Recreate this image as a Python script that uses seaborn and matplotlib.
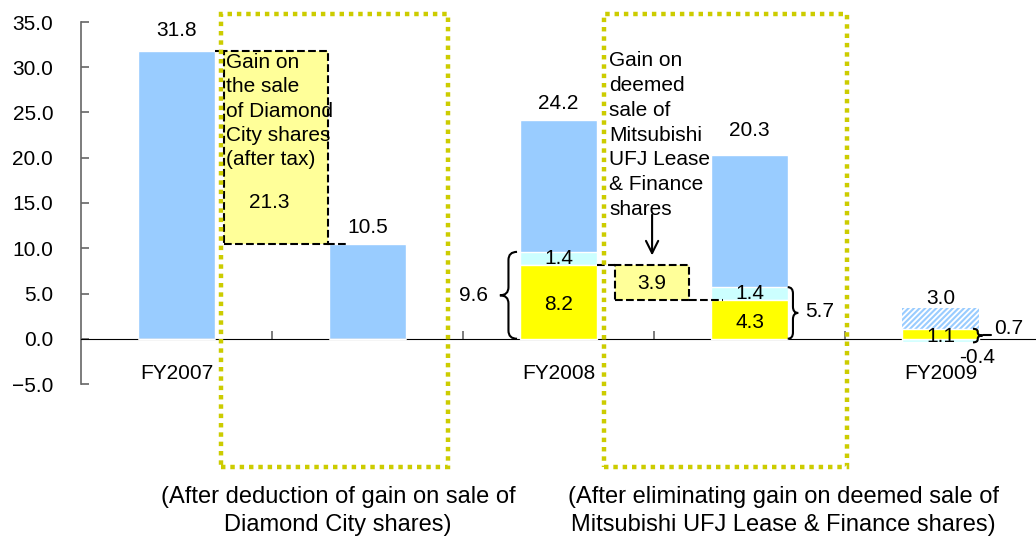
import matplotlib
matplotlib.use("Agg")
import matplotlib.pyplot as plt
import matplotlib.ticker as mticker
from matplotlib.patches import Rectangle, PathPatch
from matplotlib.path import Path
import seaborn as sns

sns.set_style("white")
plt.rcParams['font.family'] = ['Liberation Sans', 'DejaVu Sans']
plt.rcParams['hatch.linewidth'] = 1.5
plt.rcParams['text.color'] = 'black'
plt.rcParams['xtick.color'] = 'black'
plt.rcParams['ytick.color'] = 'black'

# ---- data ----
slots = [0, 1, 2, 3, 4]
slot_labels = ["FY2007", "", "FY2008", "", "FY2009"]
yellow_part = [0.0, 0.0, 8.2, 4.3, 1.1]
cyan_part = [0.0, 0.0, 1.4, 1.4, -0.4]
blue_part = [31.8, 10.5, 14.6, 14.6, 2.3]
totals = [31.8, 10.5, 24.2, 20.3, 3.0]
subtotals = [9.6, 5.7, 0.7]          # FY2008, FY2008 adjusted, FY2009
diamond_gain = 21.3
mufjl_gain = 3.9

BLUE = "#99CCFF"
CYAN = "#CCFFFF"
YELLOW = "#FFFF00"
PALE = "#FFFF99"
OLIVE = "#CCCC00"
FS = 15

fig = plt.figure(figsize=(10.36, 5.37), dpi=100)
ax = fig.add_axes([81 / 1036, 1 - 384 / 537, 955 / 1036, 362 / 537])

# blue layer (top of each stack)
cyan_bottom = [0.0 if c < 0 else y for y, c in zip(yellow_part, cyan_part)]
blue_bottom = [y + max(c, 0) for y, c in zip(yellow_part, cyan_part)]
blue_top = [b + h for b, h in zip(blue_bottom, blue_part)]
sns.barplot(x=slots, y=blue_top, color=BLUE, saturation=1, width=0.4,
            errorbar=None, ax=ax, zorder=2)
# FY2009 forecast bar is hatched
fc = ax.patches[4]
fc.set_facecolor("white")
fc.set_edgecolor(BLUE)
fc.set_hatch("//////")
fc.set_linewidth(0)

ax.bar(slots, cyan_part, bottom=cyan_bottom, width=0.4, color=CYAN, zorder=3)
ax.bar(slots, yellow_part, width=0.4, color=YELLOW, zorder=4)

# gain boxes (dashed, pale yellow)
ax.bar(0.522, diamond_gain, bottom=totals[1], width=0.545, color=PALE,
       edgecolor="black", linestyle="--", linewidth=1.5, zorder=3)
ax.bar(2.49, mufjl_gain, bottom=yellow_part[3], width=0.39, color=PALE,
       edgecolor="black", linestyle="--", linewidth=1.5, zorder=3)

# dashed connectors
conn = dict(color="black", linestyle="--", linewidth=1.5, zorder=5)
ax.plot([0.2, 0.25], [totals[0], totals[0]], **conn)
ax.plot([0.79, 0.9], [totals[1], totals[1]], **conn)
ax.plot([2.2, 2.295], [yellow_part[2], yellow_part[2]], **conn)
ax.plot([2.685, 2.86], [yellow_part[3], yellow_part[3]], **conn)


def brace(x, y0, y1, w, r=0.7):
    # curly brace from y0 to y1, tip at x + w
    xm = x + w / 2
    ym = (y0 + y1) / 2
    verts = [(x, y0), (xm, y0), (xm, y0 + r), (xm, ym - r),
             (xm, ym), (x + w, ym), (xm, ym), (xm, ym + r),
             (xm, y1 - r), (xm, y1), (x, y1)]
    codes = [Path.MOVETO, Path.CURVE3, Path.CURVE3, Path.LINETO,
             Path.CURVE3, Path.CURVE3, Path.CURVE3, Path.CURVE3,
             Path.LINETO, Path.CURVE3, Path.CURVE3]
    ax.add_patch(PathPatch(Path(verts, codes), fill=False, lw=1.5,
                           edgecolor="black", zorder=6))


brace(1.783, 0, blue_bottom[2], -0.09, r=0.9)
brace(3.2, 0, blue_bottom[3], 0.055, r=0.7)
brace(4.17, cyan_part[4], yellow_part[4], 0.05, r=0.35)
ax.plot([4.22, 4.265], [0.45, 0.45], color="black", lw=1.5, zorder=6)

# value labels
txt = dict(fontsize=FS, ha="center", va="center", zorder=7)
ax.text(0, 34.1, f"{totals[0]:.1f}", **txt)
ax.text(1, 12.3, f"{totals[1]:.1f}", **txt)
ax.text(2, 26.0, f"{totals[2]:.1f}", **txt)
ax.text(3, 23.0, f"{totals[3]:.1f}", **txt)
ax.text(4, 4.5, f"{totals[4]:.1f}", **txt)
ax.text(2, 8.9, f"{cyan_part[2]:.1f}", **txt)
ax.text(2, 3.8, f"{yellow_part[2]:.1f}", **txt)
ax.text(3, 5.0, f"{cyan_part[3]:.1f}", **txt)
ax.text(3, 1.8, f"{yellow_part[3]:.1f}", **txt)
ax.text(4, 0.2, f"{yellow_part[4]:.1f}", **txt)
ax.text(4.19, -2.1, f"{cyan_part[4]:.1f}", **txt)
ax.text(0.484, 15.0, f"{diamond_gain:.1f}", **txt)
ax.text(2.49, 6.1, f"{mufjl_gain:.1f}", **txt)
ax.text(1.63, 4.8, f"{subtotals[0]:.1f}", fontsize=FS, ha="right", va="center")
ax.text(3.29, 3.0, f"{subtotals[1]:.1f}", fontsize=FS, ha="left", va="center")
ax.text(4.28, 1.1, f"{subtotals[2]:.1f}", fontsize=FS, ha="left", va="center")

ax.text(0.26, 31.6, "Gain on\nthe sale\nof Diamond\nCity shares\n(after tax)",
        fontsize=FS, ha="left", va="top", linespacing=1.36, zorder=7)
ax.text(2.265, 31.8, "Gain on\ndeemed\nsale of\nMitsubishi\nUFJ Lease\n& Finance\nshares",
        fontsize=FS, ha="left", va="top", linespacing=1.39, zorder=7)
ax.annotate("", xy=(2.49, 8.9), xytext=(2.49, 14.0),
            arrowprops=dict(arrowstyle="->", color="black", lw=1.5,
                            mutation_scale=22), zorder=7)

# axes styling
ax.set_xlim(-0.5, 4.5)
ax.set_ylim(-5, 35)
ax.set_yticks(range(-5, 40, 5))
ax.yaxis.set_major_formatter(mticker.FuncFormatter(
    lambda v, p: f"{v:.1f}".replace("-", "\u2212")))
ax.tick_params(axis="y", left=True, direction="in", length=6, width=1.2,
               color="#666666", labelcolor="black", labelsize=FS, pad=20)
ax.set_xticks(slots)
ax.set_xticklabels(slot_labels)
ax.set_xticks([0.5, 1.5, 2.5, 3.5], minor=True)
ax.tick_params(axis="x", which="major", length=0, labelsize=FS, pad=18,
               labelcolor="black")
ax.tick_params(axis="x", which="minor", bottom=True, direction="in", length=6,
               color="#666666", width=1.2)
ax.set_xlabel("")
ax.set_ylabel("")
for s in ["top", "right"]:
    ax.spines[s].set_visible(False)
ax.spines["left"].set_color("#666666")
ax.spines["left"].set_linewidth(1.2)
ax.spines["bottom"].set_position(("data", 0))
ax.spines["bottom"].set_color("black")
ax.grid(False)

# dotted highlight frames (figure pixels)
for x0, x1 in [(221, 448), (604, 847)]:
    fig.add_artist(Rectangle((x0 / 1036, 1 - 467 / 537), (x1 - x0) / 1036,
                             453 / 537, transform=fig.transFigure, fill=False,
                             edgecolor=OLIVE, lw=3.2, linestyle=(0, (1, 1.1)),
                             zorder=10))

fig.text(338 / 1036, 1 - 511 / 537,
         "(After deduction of gain on sale of\nDiamond City shares)",
         fontsize=17, ha="center", va="center", linespacing=1.3)
fig.text(783 / 1036, 1 - 511 / 537,
         "(After eliminating gain on deemed sale of\nMitsubishi UFJ Lease & Finance shares)",
         fontsize=17, ha="center", va="center", linespacing=1.3)

fig.savefig("out.png", dpi=100)
